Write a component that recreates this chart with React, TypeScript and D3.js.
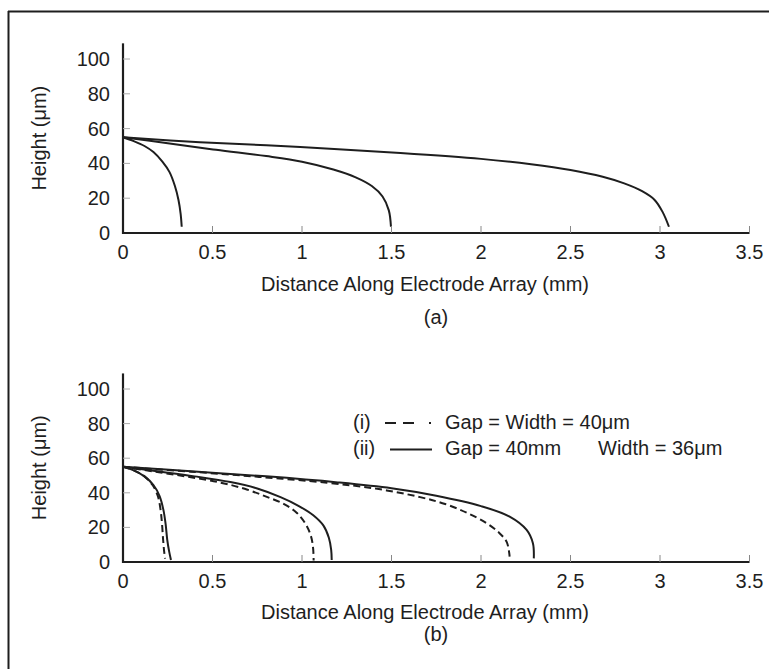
import React from 'react';
import { scaleLinear, line, curveCatmullRom } from 'd3';

// x in mm, y in µm
const xTicks = [0, 0.5, 1, 1.5, 2, 2.5, 3, 3.5];
const yTicks = [0, 20, 40, 60, 80, 100];

const topShort: [number, number][] = [
  [0, 55], [0.06, 52.8], [0.12, 50], [0.17, 46.5], [0.22, 41], [0.26, 35],
  [0.29, 27], [0.31, 19], [0.322, 11], [0.328, 3.6],
];
const topMid: [number, number][] = [
  [0, 55], [0.25, 51.6], [0.52, 47.8], [0.8, 44.2], [1.0, 41], [1.175, 36.5],
  [1.3, 32], [1.39, 27], [1.45, 21], [1.485, 13], [1.497, 3.6],
];
const topLong: [number, number][] = [
  [0, 55], [0.43, 52.2], [0.99, 49.4], [1.55, 46], [2.0, 42.6], [2.28, 39.5],
  [2.5, 36.2], [2.68, 32.3], [2.8, 28.5], [2.9, 24], [2.97, 19], [3.015, 12],
  [3.05, 3.6],
];

// (ii) solid
const botShortSolid: [number, number][] = [
  [0, 55], [0.06, 53], [0.12, 49.5], [0.17, 44.5], [0.205, 38], [0.226, 30],
  [0.238, 22], [0.247, 13], [0.258, 6], [0.268, 1.2],
];
const botMidSolid: [number, number][] = [
  [0, 55], [0.2, 52.3], [0.4, 49.5], [0.6, 46.2], [0.75, 42.5], [0.88, 37.5],
  [0.98, 32.5], [1.063, 27], [1.12, 21], [1.15, 14], [1.163, 7], [1.166, 1.2],
];
const botLongSolid: [number, number][] = [
  [0, 55], [0.4, 52.3], [0.8, 49.5], [1.2, 46.0], [1.5, 42.6], [1.75, 38.3],
  [2.0, 32.3], [2.16, 26.2], [2.255, 18.5], [2.29, 10.8], [2.295, 2.1],
];
// (i) dashed
const botShortDash: [number, number][] = [
  [0, 55], [0.06, 53], [0.12, 49.5], [0.165, 44.5], [0.195, 38], [0.21, 30],
  [0.218, 22], [0.224, 13], [0.23, 6], [0.235, 2],
];
const botMidDash: [number, number][] = [
  [0, 55], [0.18, 52.2], [0.36, 49.3], [0.54, 46], [0.68, 42.3], [0.8, 37.8],
  [0.9, 33.5], [0.97, 28.5], [1.02, 22], [1.05, 15], [1.062, 8], [1.065, 0.9],
];
const botLongDash: [number, number][] = [
  [0, 55], [0.38, 52.2], [0.76, 49.2], [1.14, 45.8], [1.42, 42.3], [1.66, 37.5],
  [1.8, 33.5], [1.92, 28.5], [2.03, 22.5], [2.1, 17], [2.144, 11.5], [2.16, 3.1],
];

const FONT = 'Arial, "Liberation Sans", Helvetica, sans-serif';
const INK = '#1e1e1e';

type Series = { pts: [number, number][]; dashed?: boolean };

const Panel = ({ y0, y100, series, tag, titleY, tagY }: {
  y0: number; y100: number; series: Series[]; tag: string; titleY: number; tagY: number;
}) => {
  const x = scaleLinear().domain([0, 3.5]).range([123, 749.5]);
  const y = scaleLinear().domain([0, 100]).range([y0, y100]);
  const path = line<[number, number]>()
    .x(d => x(d[0]))
    .y(d => y(d[1]))
    .curve(curveCatmullRom.alpha(0.5));

  return (
    <g>
      {series.map((s, i) => (
        <path key={i} d={path(s.pts) || ''} fill="none" stroke={INK} strokeWidth={2}
          strokeDasharray={s.dashed ? '7 4' : undefined} />
      ))}
      {/* y axis */}
      <line x1={x(0)} x2={x(0)} y1={y(0) + 1} y2={y(109)} stroke={INK} strokeWidth={2.2} />
      {yTicks.map(t => (
        <g key={t}>
          <line x1={x(0)} x2={x(0) + 7} y1={y(t)} y2={y(t)} stroke="#aaa" strokeWidth={1} />
          <text x={110} y={y(t) + 7} textAnchor="end" fontSize={20} fill={INK} fontFamily={FONT}>{t}</text>
        </g>
      ))}
      {/* x axis */}
      <line x1={x(0) - 1} x2={x(3.5)} y1={y(0)} y2={y(0)} stroke={INK} strokeWidth={2.2} />
      {xTicks.map(t => (
        <g key={t}>
          {t > 0 && <line x1={x(t)} x2={x(t)} y1={y(0)} y2={y(0) - 7} stroke="#888" strokeWidth={1} />}
          <text x={x(t)} y={y(0) + 26} textAnchor="middle" fontSize={20} fill={INK} fontFamily={FONT}>{t}</text>
        </g>
      ))}
      <text transform={`translate(46,${(y(0) + y(109)) / 2}) rotate(-90)`} textAnchor="middle"
        fontSize={20} fill={INK} fontFamily={FONT}>Height (μm)</text>
      <text x={425} y={titleY} textAnchor="middle" fontSize={20} fill={INK} fontFamily={FONT}>
        Distance Along Electrode Array (mm)
      </text>
      <text x={436} y={tagY} textAnchor="middle" fontSize={20} fill={INK} fontFamily={FONT}>{tag}</text>
    </g>
  );
};

const App = () => {
  return (
    <svg width={769} height={669} style={{ position: 'absolute', left: 0, top: 0, background: '#fff' }}>
      <rect x={0} y={0} width={769} height={669} fill="#fff" />
      {/* frame */}
      <line x1={8.5} x2={8.5} y1={11} y2={669} stroke={INK} strokeWidth={2} />
      <line x1={8} x2={769} y1={11.5} y2={11.5} stroke={INK} strokeWidth={2} />

      <Panel y0={233} y100={59} tag="(a)" titleY={291} tagY={324}
        series={[{ pts: topShort }, { pts: topMid }, { pts: topLong }]} />

      <Panel y0={562} y100={389} tag="(b)" titleY={619} tagY={641}
        series={[
          { pts: botShortDash, dashed: true }, { pts: botMidDash, dashed: true }, { pts: botLongDash, dashed: true },
          { pts: botShortSolid }, { pts: botMidSolid }, { pts: botLongSolid },
        ]} />

      {/* legend */}
      <g fontFamily={FONT} fontSize={20} fill={INK}>
        <text x={353} y={429}>(i)</text>
        <line x1={385} x2={445} y1={423} y2={423} stroke={INK} strokeWidth={2.2} strokeDasharray="11 7 11 15 2 100" />
        <text x={445} y={429}>Gap = Width = 40μm</text>
        <text x={353} y={455}>(ii)</text>
        <line x1={390} x2={432} y1={449.5} y2={449.5} stroke={INK} strokeWidth={2.2} />
        <text x={445} y={455}>Gap = 40mm</text>
        <text x={598} y={455}>Width = 36μm</text>
      </g>
    </svg>
  );
};

export default App;
